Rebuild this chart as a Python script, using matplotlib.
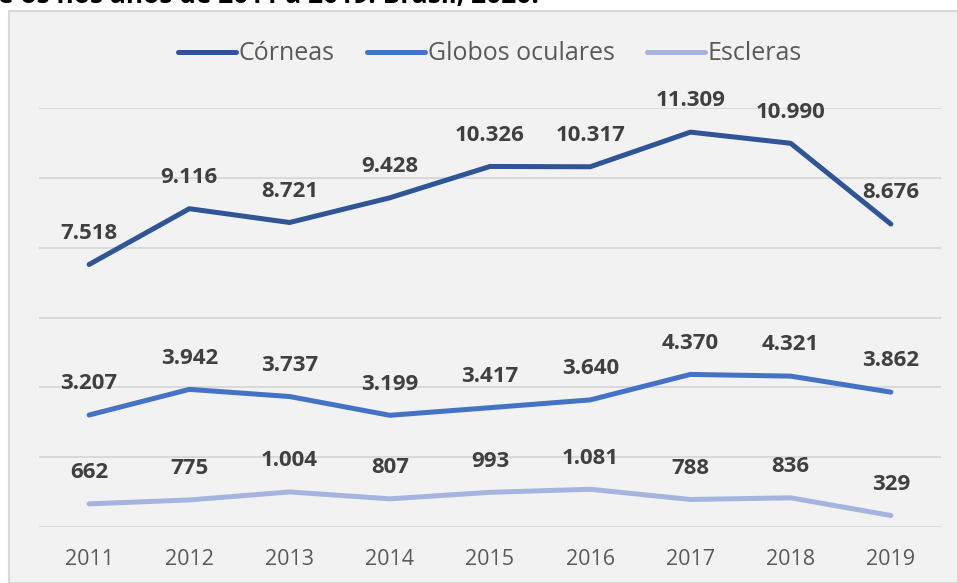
import matplotlib
matplotlib.use("Agg")
import matplotlib.pyplot as plt
from matplotlib.patches import Rectangle

plt.rcParams['font.family'] = ['Open Sans', 'DejaVu Sans']

years = ['2011', '2012', '2013', '2014', '2015', '2016', '2017', '2018', '2019']
corneas = [7518, 9116, 8721, 9428, 10326, 10317, 11309, 10990, 8676]
globos = [3207, 3942, 3737, 3199, 3417, 3640, 4370, 4321, 3862]
escleras = [662, 775, 1004, 807, 993, 1081, 788, 836, 329]

series = [
    ('Córneas', corneas, '#2F5597'),
    ('Globos oculares', globos, '#4472C4'),
    ('Escleras', escleras, '#A5B4DE'),
]

W, H = 957, 583
fig = plt.figure(figsize=(W / 100, H / 100), dpi=100)
fig.patch.set_facecolor('white')

# chart area frame
fig.patches.append(Rectangle((9 / W, 0), 1.0, 1 - 11 / H, transform=fig.transFigure,
                             facecolor='#F2F2F2', edgecolor='#D9D9D9', linewidth=1.5,
                             zorder=-5))

# caption cut off at the top edge, as in the source
fig.text(-2 / W, 1 - 3 / H, 'e os nos anos de 2011 a 2019. Brasil, 2020.',
         fontsize=19, fontweight='bold', color='black', va='baseline', ha='left')

ax = fig.add_axes([39 / W, 56 / H, 902 / W, 419 / H])
ax.set_facecolor('none')

x = list(range(len(years)))
for name, vals, col in series:
    ax.plot(x, vals, color=col, lw=3.6, label=name,
            solid_capstyle='round', solid_joinstyle='round', zorder=3)
    for xi, v in zip(x, vals):
        ax.annotate(f'{v:,}'.replace(',', '.'), (xi, v), xytext=(0, 22.5),
                    textcoords='offset points', ha='center', va='center',
                    fontsize=16, fontweight='bold', color='#404040', zorder=4)

ax.set_xlim(-0.5, len(years) - 0.5)
ax.set_ylim(0, 12000)
ax.set_yticks(range(0, 12001, 2000))
ax.yaxis.grid(True, color='#D9D9D9', lw=1.4)
ax.set_axisbelow(True)
ax.set_yticklabels([])
ax.tick_params(axis='y', length=0)
ax.set_xticks(x)
ax.set_xticklabels(years, fontsize=15.5, color='#595959')
ax.tick_params(axis='x', length=0, pad=16)
for s in ax.spines.values():
    s.set_visible(False)

leg = ax.legend(loc='center', bbox_to_anchor=(0.5, 1 + (108 - 54) / 419), ncol=3,
                frameon=False, fontsize=18, handlelength=2.3, handletextpad=0.12,
                columnspacing=1.3, borderaxespad=0)
for t in leg.get_texts():
    t.set_color('#595959')

fig.savefig('out.png', dpi=100)
